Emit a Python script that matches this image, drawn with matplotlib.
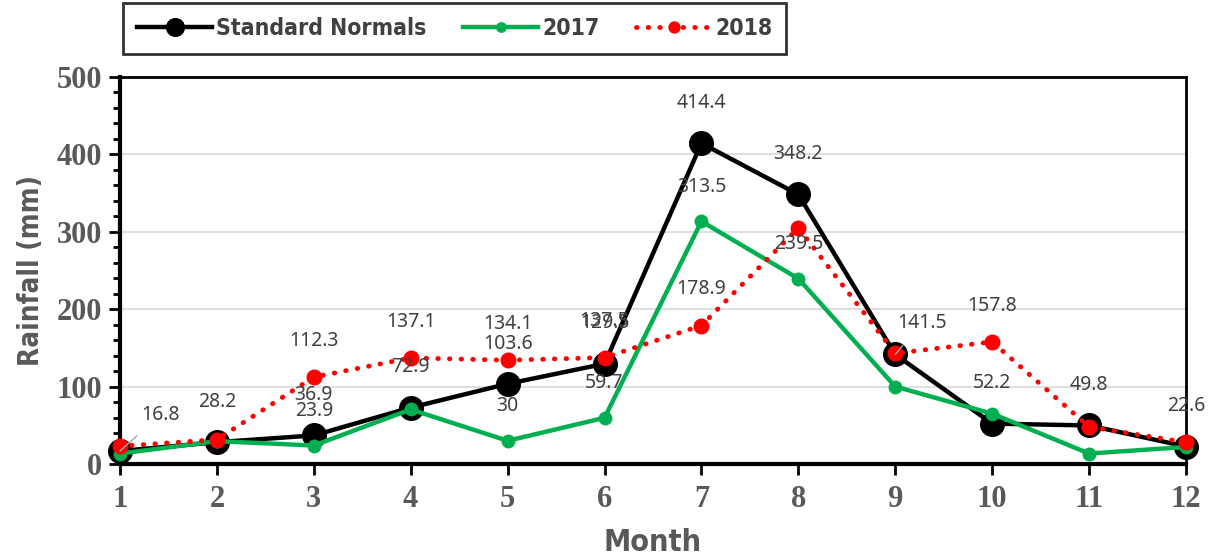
import matplotlib.pyplot as plt
from matplotlib.ticker import MultipleLocator

months = list(range(1, 13))
normals = [16.8, 28.2, 36.9, 72.9, 103.6, 129.5, 414.4, 348.2, 141.5, 52.2, 49.8, 22.6]
y2017 = [13.5, 29.5, 23.9, 70.5, 30, 59.7, 313.5, 239.5, 100.0, 65.0, 13.5, 22.0]
y2018 = [23.0, 31.5, 112.3, 137.1, 134.1, 137.5, 178.9, 305.0, 143.0, 157.8, 48.0, 28.0]

# which points carry a data label (index into the month list)
normals_lab = [1, 2, 3, 4, 5, 6, 7, 9, 10, 11]
y2017_lab = [2, 4, 5, 6, 7]
y2018_lab = [2, 3, 4, 5, 6, 9]

tick_font = ['Liberation Serif', 'DejaVu Serif']
lab_font = ['DejaVu Sans']
val_font = ['Noto Sans', 'DejaVu Sans']
gray = '#595959'

fig = plt.figure(figsize=(12.10, 5.59), dpi=100)
ax = fig.add_axes([120 / 1210, 1 - 464 / 559, (1186 - 120) / 1210, (464 - 77) / 559])

l1, = ax.plot(months, normals, color='black', lw=3.2, marker='o', ms=17, zorder=3,
              clip_on=False, label='Standard Normals')
l2, = ax.plot(months, y2017, color='#00b050', lw=3.2, marker='o', ms=9, zorder=4,
              clip_on=False, label='2017')
l3, = ax.plot(months, y2018, color='red', lw=3.5, ls=(0, (0.1, 2.3)), dash_capstyle='round',
              marker='o', ms=10.5, zorder=5, clip_on=False, label='2018')

def put_labels(vals, idx, dy):
    for i in idx:
        ax.annotate(f'{vals[i]:g}', (months[i], vals[i]), xytext=(0, dy),
                    textcoords='offset points', ha='center', va='center',
                    fontsize=14, color='#404040', family=val_font, zorder=6)

put_labels(normals, normals_lab, 29)
put_labels(y2017, y2017_lab, 25)
put_labels(y2018, y2018_lab, 26)

# labels pulled aside with leader lines
for i, dx, dy in [(0, 29, 26), (8, 19, 23)]:
    ax.annotate(f'{normals[i]:g}', (months[i], normals[i]), xytext=(dx, dy),
                textcoords='offset points', ha='center', va='center',
                fontsize=14, color='#404040', family=val_font, zorder=6,
                arrowprops=dict(arrowstyle='-', color='#a6a6a6', lw=1,
                                shrinkA=9, shrinkB=0))

ax.set_xlim(1, 12)
ax.set_ylim(0, 500)
ax.set_xticks(months)
ax.yaxis.set_major_locator(MultipleLocator(100))
ax.yaxis.set_minor_locator(MultipleLocator(20))
ax.grid(axis='y', color='#d9d9d9', lw=1.2)
ax.set_axisbelow(True)

for s in ax.spines.values():
    s.set_linewidth(2)
    s.set_color('black')
ax.spines['left'].set_linewidth(3)
ax.spines['bottom'].set_linewidth(3)

ax.tick_params(axis='both', which='major', direction='out', length=8, width=2,
               labelsize=22, labelcolor=gray, pad=5)
ax.tick_params(axis='y', which='minor', direction='out', length=5, width=2)
for t in ax.get_xticklabels() + ax.get_yticklabels():
    t.set_family(tick_font)
    t.set_fontweight('bold')
ax.tick_params(axis='x', pad=7)

ax.set_xlabel('Month', fontsize=22, fontweight='bold', fontstretch='condensed', color=gray,
              family=lab_font, labelpad=10)
ax.set_ylabel('Rainfall (mm)', fontsize=20, fontweight='bold', fontstretch='condensed',
              color=gray, family=lab_font, labelpad=8)

leg = fig.legend(handles=[l1, l2, l3], loc='upper left', ncol=3,
                 bbox_to_anchor=(123 / 1210, 1 - 3 / 559), borderaxespad=0,
                 frameon=True, fancybox=False,
                 edgecolor='black', handlelength=3.3, columnspacing=1.6, handletextpad=0.15,
                 borderpad=0.6, markerscale=0.75,
                 prop=dict(family=lab_font, weight='bold', stretch='condensed', size=16.5))
leg.get_frame().set_linewidth(2)
for t in leg.get_texts():
    t.set_color('#404040')

fig.savefig('out.png', dpi=100)
